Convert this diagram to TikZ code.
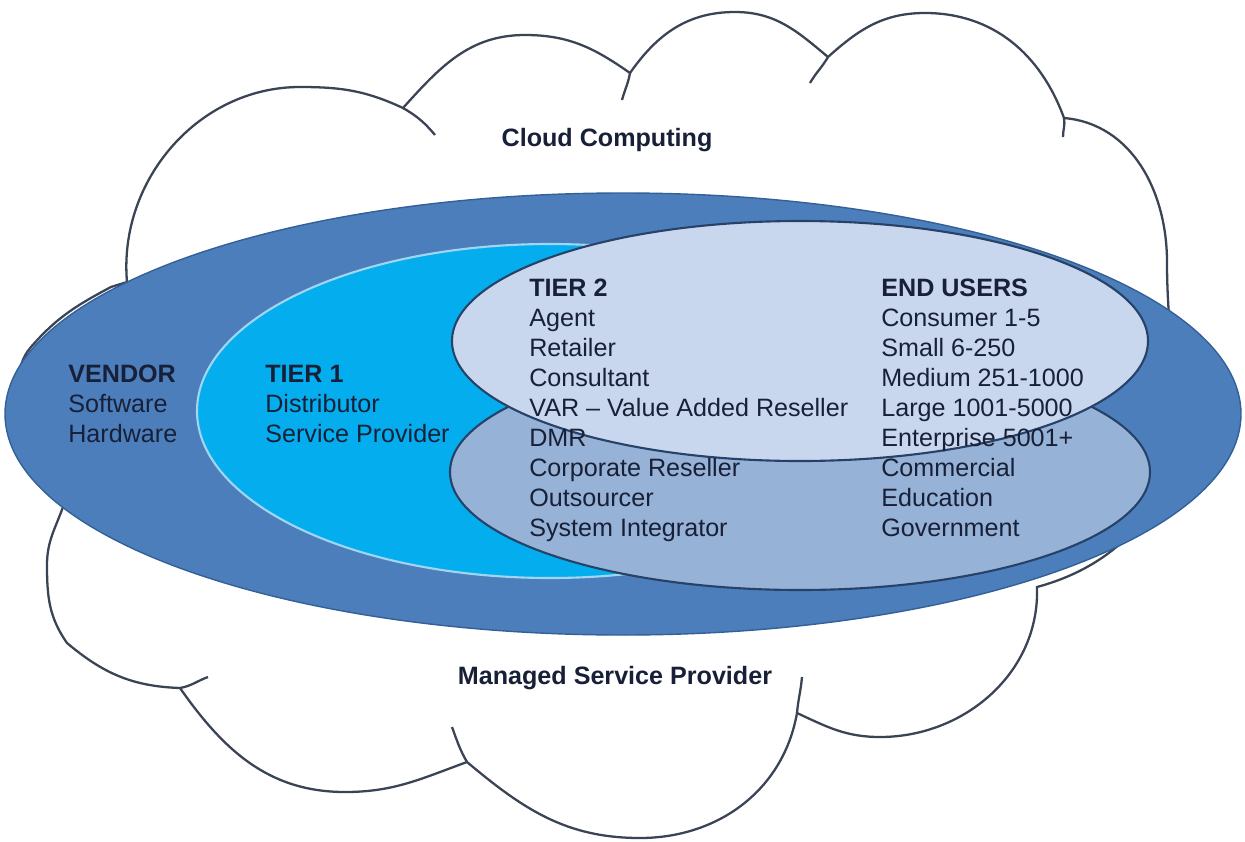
\documentclass[tikz,border=0pt]{standalone}
\usepackage{fontspec}
\setmainfont{Liberation Sans}
\definecolor{vendorblue}{RGB}{76,126,188}
\definecolor{vendoredge}{RGB}{52,96,152}
\definecolor{tieronecyan}{RGB}{4,174,238}
\definecolor{tieroneedge}{RGB}{160,214,242}
\definecolor{tiertwolight}{RGB}{200,215,237}
\definecolor{tiertwomid}{RGB}{150,178,214}
\definecolor{tiertwoedge}{RGB}{38,66,104}
\definecolor{cloudline}{RGB}{58,68,84}
\definecolor{textnavy}{RGB}{24,32,56}
\tikzset{
  /tikz/.cd,
  block/.style={align=left,anchor=north west,inner sep=0pt,text=textnavy,font=\fontsize{14.3}{17.07}\selectfont}
}

\begin{document}
\begin{tikzpicture}[x=0.02cm,y=0.02cm,
                    title/.style={anchor=base,inner sep=0pt,text=textnavy,font=\bfseries\fontsize{14.3}{17.07}\selectfont},
                    cloudedge/.style={draw=cloudline,line width=1.3pt},
                    tiertwo/.style={draw=tiertwoedge,line width=1.2pt}]
  \useasboundingbox (0,0) rectangle (1245,-842);

  % the cloud behind everything
  \filldraw[cloudedge,fill=white] (127,-282) to[out=95,in=180] (300,-87) to[out=0,in=155] (403,-108)
    to[out=48,in=180] (525,-35) to[out=0,in=145] (630,-73)
    to[out=55,in=180] (735,-12) to[out=0,in=140] (828,-57)
    to[out=42,in=180] (925,-13) to[out=0,in=110] (1064,-118)
    to[out=-5,in=90] (1167,-262) to[out=-90,in=90] (1175,-420) to[out=-90,in=15] (1037,-587)
    to[out=-88,in=0] (880,-737) to[out=180,in=-25] (797,-713)
    to[out=-100,in=0] (640,-838) to[out=180,in=-40] (467,-762)
    to[out=-160,in=0] (345,-792) to[out=180,in=-55] (180,-688)
    to[out=178,in=-40] (67,-643) to[out=125,in=-90] (47,-565) to[out=90,in=-110] (63,-507)
    to[out=110,in=-90] (22,-420) to[out=90,in=229] (31,-347) to[out=49,in=208] (111,-287) -- cycle;
  \draw[cloudedge] (403,-108) to[out=-30,in=130] (435,-135);
  \draw[cloudedge] (630,-73) to[out=-100,in=75] (622,-100);
  \draw[cloudedge] (828,-57) to[out=-120,in=60] (810,-83);
  \draw[cloudedge] (1064,-118) to[out=-80,in=90] (1063,-137);
  \draw[cloudedge] (797,-713) to[out=85,in=-95] (802,-677);
  \draw[cloudedge] (467,-762) to[out=120,in=-70] (452,-727);
  \draw[cloudedge] (180,-688) to[out=10,in=200] (208,-677);

  % the rings
  \filldraw[fill=vendorblue,draw=vendoredge,line width=0.8pt] (623,-414) ellipse (618 and 221);
  \filldraw[fill=tieronecyan,draw=tieroneedge,line width=1.2pt] (550,-411) ellipse (353 and 167);
  \filldraw[tiertwo,fill=tiertwomid] (800,-472) ellipse (350 and 118);
  \filldraw[tiertwo,fill=tiertwolight] (800,-341) ellipse (348 and 120);

  \node[title] (cloudlbl) at (607,-146) {Cloud Computing};
  \node[title] (msplbl) at (615,-684) {Managed Service Provider};

  \node[block] (vendor) at (68,-365) {\textbf{VENDOR}\\Software\\Hardware};
  \node[block] (tierone) at (265,-365) {\textbf{TIER 1}\\Distributor\\Service Provider};
  \node[block] (tiertwo) at (529,-279) {\textbf{TIER 2}\\Agent\\Retailer\\Consultant\\VAR – Value Added Reseller\\DMR\\Corporate Reseller\\Outsourcer\\System Integrator};
  \node[block] (endusers) at (881,-279) {\textbf{END USERS}\\Consumer 1-5\\Small 6-250\\Medium 251-1000\\Large 1001-5000\\Enterprise 5001+\\Commercial\\Education\\Government};
\end{tikzpicture}
\end{document}
